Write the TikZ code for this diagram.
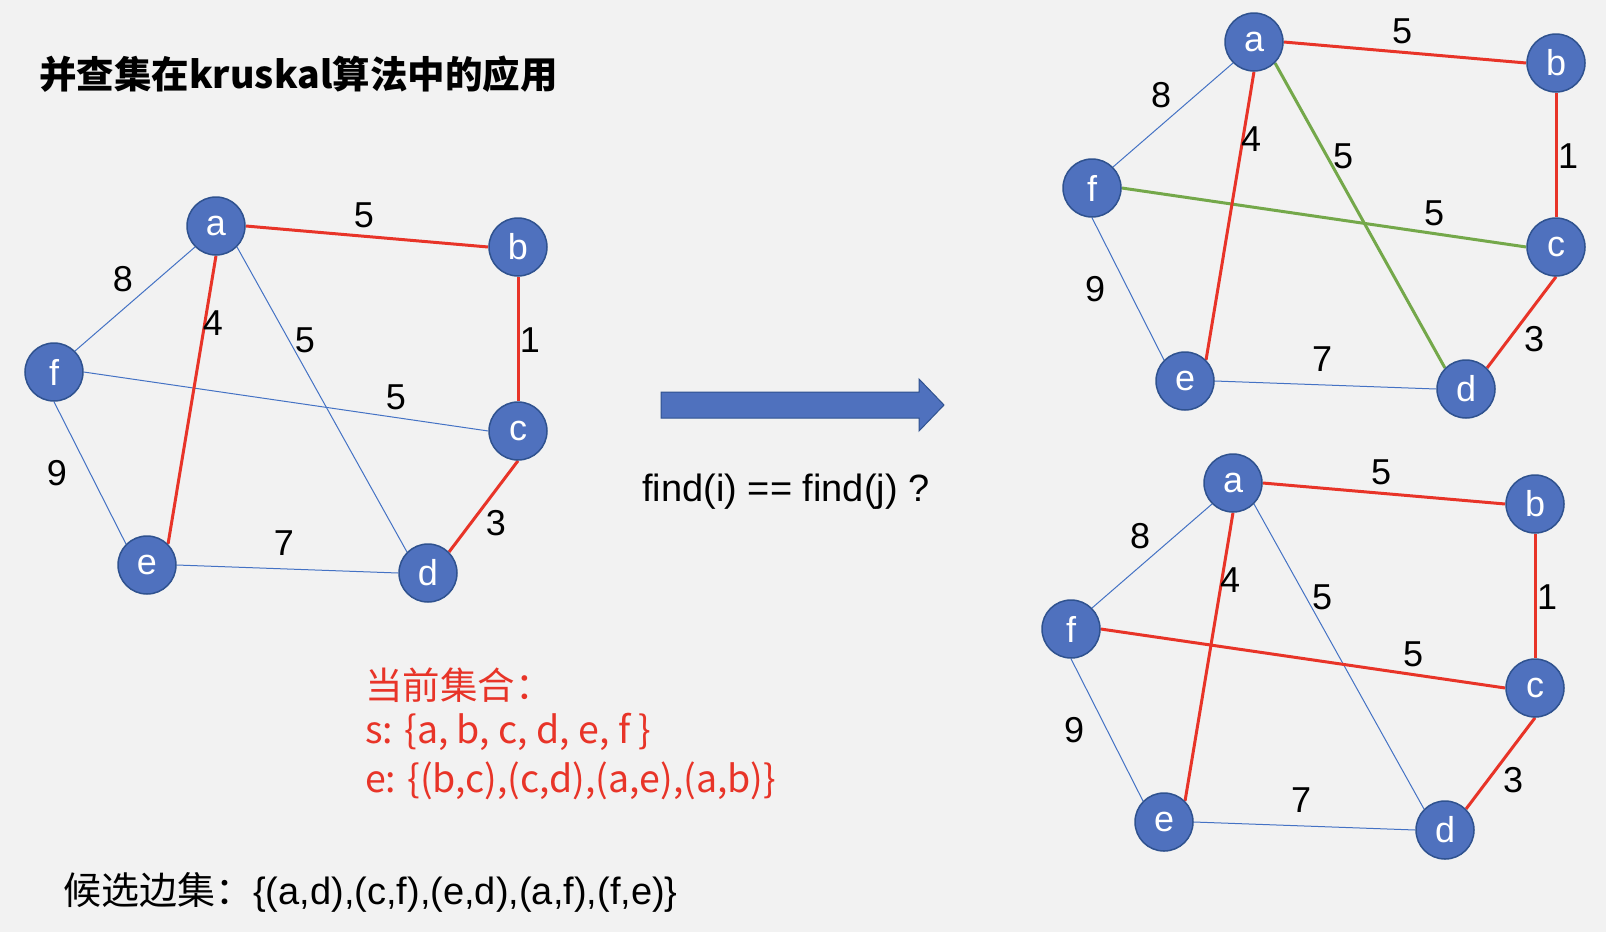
\documentclass[tikz,border=0pt]{standalone}
\usepackage{fontspec}
\setmainfont{Liberation Sans}
\newfontfamily\cjk{Noto Sans CJK SC}
\pgfdeclarelayer{bglayer}
\pgfdeclarelayer{edges}
\pgfsetlayers{bglayer,edges,main}
\definecolor{bgc}{HTML}{F2F2F2}
\definecolor{nodeblue}{HTML}{4F71BE}
\definecolor{nodeborder}{HTML}{2F528F}
\definecolor{thinblue}{HTML}{4472C4}
\definecolor{redc}{HTML}{E83428}
\definecolor{greenc}{HTML}{74A84A}
\tikzset{
  vtx/.style={circle, fill=nodeblue, draw=nodeborder, line width=1.5pt, minimum size=58pt, inner sep=0pt, text=white, font=\fontsize{36}{36}\selectfont},
  wlab/.style={font=\fontsize{36}{36}\selectfont, text=black, inner sep=0pt},
  redE/.style={draw=redc, line width=3pt},
  thinE/.style={draw=thinblue, line width=1pt},
  greenE/.style={draw=greenc, line width=3pt},
}
\newcommand{\kgraph}[4]{%
  \begin{scope}[shift={#2}]
    \node[vtx] (#1a) at (0,0) {a};
    \node[vtx] (#1b) at (302,21) {b};
    \node[vtx] (#1c) at (302,205) {c};
    \node[vtx] (#1d) at (212,347) {d};
    \node[vtx] (#1e) at (-69,339) {e};
    \node[vtx] (#1f) at (-162,146) {f};
    \node[wlab] (#1wab) at (148,-11) {5};
    \node[wlab] (#1waf) at (-93,53) {8};
    \node[wlab] (#1wae) at (-3,97) {4};
    \node[wlab] (#1wad) at (89,114) {5};
    \node[wlab] (#1wbc) at (314,114) {1};
    \node[wlab] (#1wfc) at (180,171) {5};
    \node[wlab] (#1wfe) at (-159,247) {9};
    \node[wlab] (#1wed) at (68,317) {7};
    \node[wlab] (#1wcd) at (280,297) {3};
    \begin{pgfonlayer}{edges}
      \draw[thinE] (#1a.225) -- (#1f.45);
      \draw[thinE] (#1f.270) -- (#1e.135);
      \draw[thinE] (#1e.0) -- (#1d.180);
      \draw[#3] (#1a.315) -- (#1d.135);
      \draw[#4] (#1f.0) -- (#1c.180);
      \draw[redE] (#1a.0) -- (#1b.180);
      \draw[redE] (#1b.270) -- (#1c.90);
      \draw[redE] (#1c.270) -- (#1d.45);
      \draw[redE] (#1a.270) -- (#1e.45);
    \end{pgfonlayer}
  \end{scope}}
\begin{document}
\begin{tikzpicture}[x=1pt,y=-1pt]
  \useasboundingbox (0,0) rectangle (1606,932);
  \begin{pgfonlayer}{bglayer}
    \fill[bgc] (0,0) rectangle (1606,932);
  \end{pgfonlayer}
  \node[anchor=west, inner sep=0pt, font=\cjk\bfseries\fontsize{37.5}{37.5}\selectfont] (title) at (39,74) {并查集在kruskal算法中的应用};
  \kgraph{g}{(216,226)}{thinE}{thinE}
  \kgraph{h}{(1254,42)}{greenE}{greenE}
  \kgraph{k}{(1233,483)}{thinE}{redE}
  \draw[fill=nodeblue, draw=nodeborder, line width=1pt]
    (661,392) -- (919,392) -- (919,379) -- (944,405) -- (919,431) -- (919,418) -- (661,418) -- cycle;
  \node[inner sep=0pt, font=\fontsize{38}{38}\selectfont] (find) at (786,492) {find(i) == find(j) ?};
  \node[anchor=west, inner sep=0pt, text=redc, font=\cjk\fontsize{37.5}{37.5}\selectfont] (cur) at (365,685) {当前集合：};
  \node[anchor=west, inner sep=0pt, text=redc, font=\cjk\fontsize{37.5}{37.5}\selectfont] (sset) at (365,732) {s: \{a, b, c, d, e, f \}};
  \node[anchor=west, inner sep=0pt, text=redc, font=\cjk\fontsize{37.5}{37.5}\selectfont] (eset) at (365,781) {e: \{(b,c),(c,d),(a,e),(a,b)\}};
  \node[anchor=west, inner sep=0pt, font=\fontsize{38}{38}\selectfont] (cand) at (63,892) {{\cjk 候选边集：}\{(a,d),(c,f),(e,d),(a,f),(f,e)\}};
\end{tikzpicture}
\end{document}
